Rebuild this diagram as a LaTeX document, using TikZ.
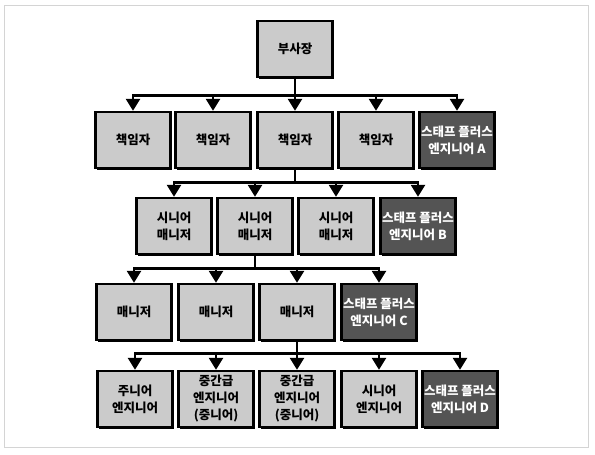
\documentclass[tikz,border=0pt]{standalone}
\usepackage{fontspec}
\setmainfont{Noto Sans CJK KR}
\usetikzlibrary{arrows.meta,shadows}

\definecolor{boxgray}{HTML}{CBCBCB}
\definecolor{staffgray}{HTML}{545454}
\definecolor{framegray}{HTML}{D4D4D4}

\tikzset{
    rank/.style={draw=black, line width=2.4pt, fill=boxgray,
        minimum width=75pt, minimum height=56pt, inner sep=1pt,
        align=center, font=\bfseries\fontsize{12.5}{17}\selectfont,
        drop shadow={shadow xshift=1.8pt, shadow yshift=-1.8pt,
            fill=black, opacity=1}},
    staff/.style={rank, fill=staffgray, text=white},
    link/.style={line width=2.6pt, -{Triangle[length=12pt,width=14pt]}},
}

\begin{document}
\begin{tikzpicture}[x=1pt, y=-1pt]
        \useasboundingbox (0,0) rectangle (595,455);
        \draw[framegray, line width=0.9pt] (4,5) rectangle (588,447);

        % top
        \node[rank] (vp) at (295,49) {부사장};

        % leads
        \node[rank] (lead1) at (133,140) {책임자};
        \node[rank] (lead2) at (213,140) {책임자};
        \node[rank] (lead3) at (295,140) {책임자};
        \node[rank] (lead4) at (376,140) {책임자};
        \node[staff] (staffA) at (457,140) {스태프 플러스\\엔지니어 A};

        % senior managers
        \node[rank] (smgr1) at (174,226) {시니어\\매니저};
        \node[rank] (smgr2) at (255,226) {시니어\\매니저};
        \node[rank] (smgr3) at (336,226) {시니어\\매니저};
        \node[staff] (staffB) at (418,226) {스태프 플러스\\엔지니어 B};

        % managers
        \node[rank] (mgr1) at (134,312) {매니저};
        \node[rank] (mgr2) at (216,312) {매니저};
        \node[rank] (mgr3) at (297,312) {매니저};
        \node[staff] (staffC) at (379,312) {스태프 플러스\\엔지니어 C};

        % engineers
        \node[rank] (eng1) at (135,399) {주니어\\엔지니어};
        \node[rank] (eng2) at (216,399) {중간급\\엔지니어\\(중니어)};
        \node[rank] (eng3) at (297,399) {중간급\\엔지니어\\(중니어)};
        \node[rank] (eng4) at (379,399) {시니어\\엔지니어};
        \node[staff] (staffD) at (460,399) {스태프 플러스\\엔지니어 D};

        \foreach \kid in {lead1, lead2, lead3, lead4, staffA}{
                \draw[link] (vp.south) -- ++(0,17) -| (\kid.north);
            }
        \foreach \kid in {smgr1, smgr2, smgr3, staffB}{
                \draw[link] (lead3.south) -- ++(0,13) -| (\kid.north);
            }
        \foreach \kid in {mgr1, mgr2, mgr3, staffC}{
                \draw[link] (smgr2.south) -- ++(0,13) -| (\kid.north);
            }
        \foreach \kid in {eng1, eng2, eng3, eng4, staffD}{
                \draw[link] (mgr3.south) -- ++(0,12) -| (\kid.north);
            }

    \end{tikzpicture}
\end{document}
